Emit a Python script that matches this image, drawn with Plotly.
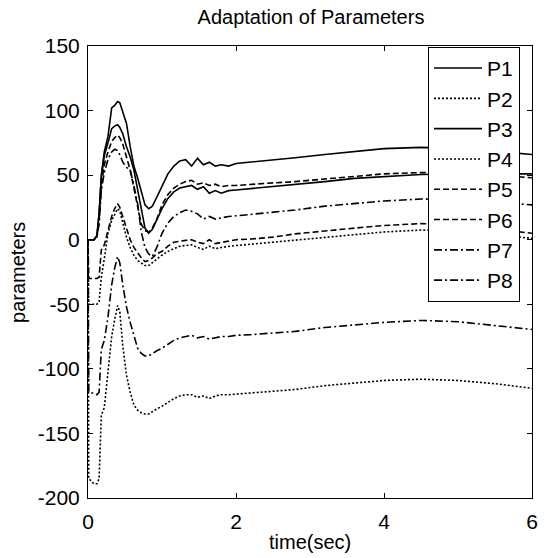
import plotly.graph_objects as go

# time grid (sec)
time = [0, 0.01, 0.08, 0.12, 0.15, 0.18, 0.22, 0.27, 0.32, 0.36, 0.40, 0.43, 0.47, 0.52,
        0.57, 0.62, 0.67, 0.72, 0.77, 0.82, 0.87, 0.93, 1.00, 1.08, 1.16, 1.24, 1.32,
        1.40, 1.48, 1.56, 1.64, 1.72, 1.80, 1.90, 2.00, 2.2, 2.5, 2.8, 3.2, 3.6, 4.0,
        4.5, 5.0, 5.5, 6.0]

P1 = [0, 0, 0, 3, 20, 50, 68, 80, 102, 104, 107, 106, 98, 90,
      72, 57, 48, 38, 27, 24, 26, 33, 42, 51, 57, 61, 62,
      57, 63, 58, 60, 57, 58, 57, 59, 60, 62, 63.5, 66, 68.5, 70.5,
      71.5, 70.5, 68.5, 66]
P2 = [0, -50, -50, -50, -48, -29, -15, 5, 15, 20, 24, 22, 12, 2,
      -6, -12, -16, -18, -20, -20, -18, -15, -12, -9, -7, -5, -4.5,
      -4, -6, -7.5, -5, -7, -6, -5, -4.5, -3.5, -2, -0.5, 2, 4, 6,
      7.5, 6.5, 4, 1]
P3 = [0, 0, 0, 3, 20, 48, 65, 75, 86, 88, 89, 87, 82, 72,
      64, 54, 40, 24, 9, 5, 8, 15, 24, 32, 37, 40, 41,
      42, 39, 41, 36, 38, 36, 38, 38.5, 39.5, 41, 42.5, 45, 47.5, 49,
      50.5, 51, 51, 51]
P4 = [0, -185, -189, -189, -185, -136, -130, -100, -75, -62, -51, -56, -82, -105,
      -118, -128, -132, -134, -135, -135, -133, -131, -129, -126, -123, -121, -120,
      -120, -122, -121, -123, -121, -120, -120, -119.5, -118.5, -117.5, -116, -113, -111, -109,
      -108, -109, -111.5, -115]
P5 = [0, 0, 0, 2, 15, 42, 58, 68, 76, 79, 81, 79, 74, 64,
      54, 40, 25, 12, 7, 6, 9, 16, 27, 35, 40, 43, 45,
      46, 43, 44, 42, 43, 41, 42, 42, 43, 44, 45, 47, 49, 51,
      52, 51.5, 50, 48]
P6 = [0, -30, -30, -30, -29, -8, -4, 8, 18, 24, 28, 25, 18, 8,
      0, -6, -10, -14, -17, -16, -14, -11, -9, -5, -2, -1, -0.5,
      0, -2, -3, 0, -3, -2, -1, 0, 0.5, 2, 4.5, 7, 9, 11,
      12.5, 11.5, 8.5, 5]
P7 = [0, 0, 0, 2, 12, 38, 52, 62, 68, 70, 69, 66, 60, 56,
      54, 42, 28, 6, -6, -11, -13, -6, 5, 13, 18, 21, 23,
      22, 20, 16, 18, 16, 17, 18, 18.5, 19.5, 21, 23, 26, 28, 30,
      31.5, 31, 29, 27]
P8 = [0, -118, -119, -120, -118, -85, -78, -60, -35, -22, -13, -18, -35, -52,
      -64, -75, -84, -88, -90, -90, -88, -86, -84, -81, -78, -76, -75,
      -74, -76, -75, -77, -76, -75, -75, -74, -73.5, -72.5, -71, -68, -66, -64,
      -62.5, -63.5, -66.5, -69.5]

names = ["P1", "P2", "P3", "P4", "P5", "P6", "P7", "P8"]
series = [P1, P2, P3, P4, P5, P6, P7, P8]
dashes = ["solid", "2px,2px", "solid", "2px,2px", "6px,3px", "6px,3px",
          "8px,3px,2px,3px", "8px,3px,2px,3px"]

x_ticks = [0, 2, 4, 6]
x_tick_labels = ["0", "2", "4", "6"]
y_ticks = [-200, -150, -100, -50, 0, 50, 100, 150]
y_tick_labels = ["-200", "-150", "-100", "-50", "0", "50", "100", "150"]

FONT = "Liberation Sans, Arial, sans-serif"
W, H = 545, 558

fig = go.Figure()
for name, vals, d in zip(names, series, dashes):
    fig.add_trace(go.Scatter(x=time, y=vals, mode="lines", name=name,
                             line=dict(color="black", width=1.6, dash=d)))

axis_common = dict(showline=True, linecolor="black", linewidth=1, mirror="allticks",
                   ticks="inside", ticklen=5, tickcolor="black", showgrid=False,
                   zeroline=False, tickfont=dict(family=FONT, size=21, color="black"))

fig.update_layout(
    width=W, height=H,
    margin=dict(l=88, r=7, t=46, b=60),
    paper_bgcolor="white", plot_bgcolor="white",
    title=dict(text="Adaptation of Parameters", x=311 / W, xanchor="center",
               y=1 - 17 / H, yanchor="middle", yref="container",
               font=dict(family=FONT, size=20, color="black")),
    xaxis=dict(range=[0, 6], tickvals=x_ticks, ticktext=x_tick_labels,
               ticklabelstandoff=5, **axis_common),
    yaxis=dict(range=[-200, 150], tickvals=y_ticks, ticktext=y_tick_labels,
               ticklabelstandoff=3, **axis_common),
    legend=dict(x=0.973, xanchor="right", y=0.998, yanchor="top",
                bgcolor="white", bordercolor="black", borderwidth=1,
                font=dict(family=FONT, size=21, color="black"),
                itemwidth=48, tracegroupgap=0),
    showlegend=True,
    annotations=[
        dict(text="time(sec)", xref="paper", yref="paper", x=0.5,
             y=-44 / 452, xanchor="center", yanchor="middle",
             showarrow=False, font=dict(family=FONT, size=20, color="black")),
        dict(text="parameters", xref="paper", yref="paper", x=(17 - 88) / 450,
             y=0.5, xanchor="center", yanchor="middle", textangle=-90,
             showarrow=False, font=dict(family=FONT, size=20, color="black")),
    ],
)

# remove the browser's default 8px body margin so the figure fills the window
fig.write_html("out.html",
               config={"displayModeBar": False},
               post_script="document.body.style.margin='0';document.body.style.overflow='hidden';")
